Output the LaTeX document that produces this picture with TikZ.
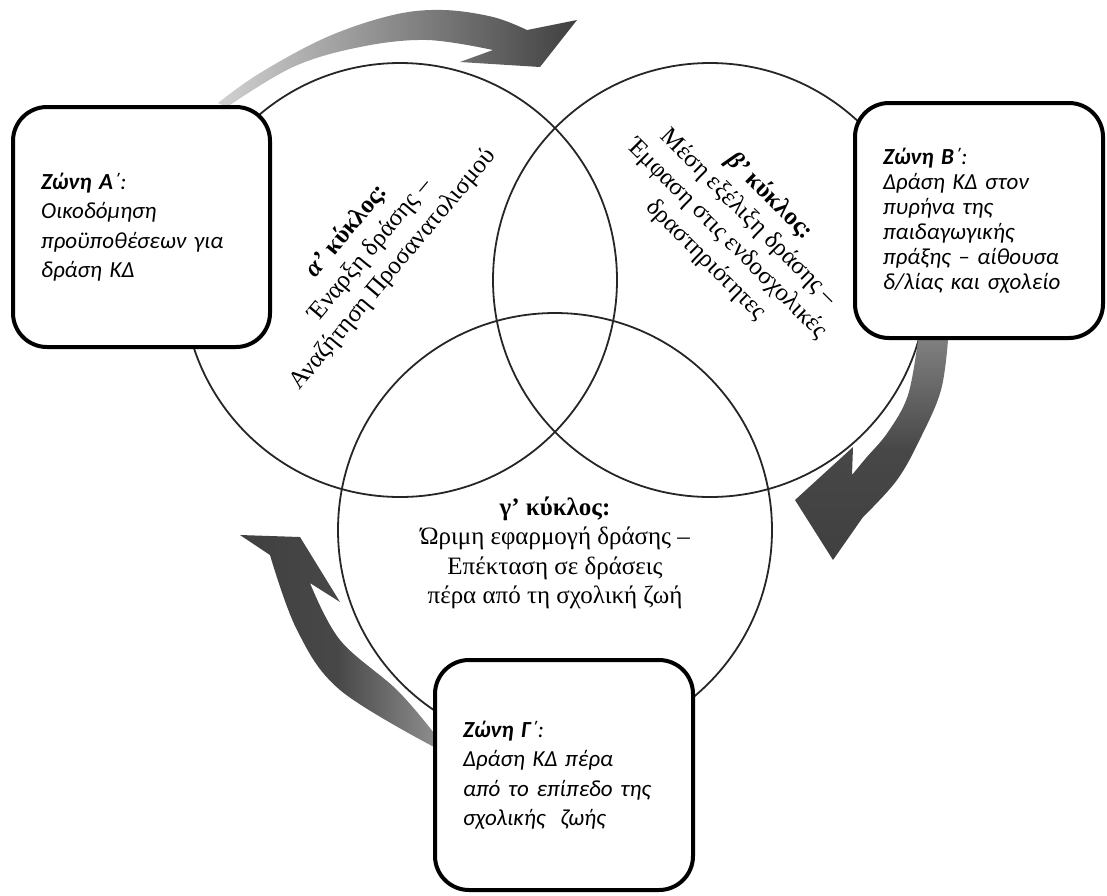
\documentclass[tikz,border=0pt]{standalone}
\usepackage{fontspec}
\setmainfont{Liberation Serif}
\newfontfamily\zonefont{Carlito}
\usetikzlibrary{positioning}
\tikzset{
    kyklos/.style={
        circle,
        draw=black!85,
        line width=1.8pt,
        minimum size=434pt,
        inner sep=0pt
    },
    zone/.style={
        rectangle,
        draw=black,
        line width=4pt,
        rounded corners=34pt,
        fill=white,
        align=left,
        inner xsep=28pt,
        font=\zonefont\itshape\fontsize{23}{29.5}\selectfont
    },
    kyklostext/.style={
        align=center,
        font=\fontsize{25}{30}\selectfont
    }
}

\begin{document}
\begin{tikzpicture}[x=1pt, y=-1pt]

\useasboundingbox (0,0) rectangle (1107,895);

% The three circles
\node[kyklos] (alpha) at (400,280) {};
\node[kyklos] (beta) at (710,280) {};
\node[kyklos] (gamma) at (555,530) {};

% Curved arrows between the zones
\shade[left color=black!18, right color=black!75] plot[smooth, tension=0.6] coordinates {(218,103) (260,73) (327,37) (393,15) (443,10) (493,17) (527,30)} -- (577,20) -- (540,67) -- (460,62) -- (493,50) -- plot[smooth, tension=0.6] coordinates {(493,50) (427,40) (360,47) (293,67) (227,107)} -- cycle;
\shade[top color=black!50, bottom color=black!75, middle color=black!72] plot[smooth, tension=0.6] coordinates {(948,340) (941,390) (921,437) (897,480) (863,517)} -- (833,560) -- (795,500) -- (853,447) -- (852,475) -- plot[smooth, tension=0.6] coordinates {(852,475) (866,458) (888,432) (908,395) (918,340)} -- cycle;
\shade[right color=black!45, left color=black!75, middle color=black!72] plot[smooth, tension=0.6] coordinates {(434,747) (340,690) (297,630) (270,555)} -- (240,535) -- (300,537) -- (340,602) -- (310,583) -- plot[smooth, tension=0.6] coordinates {(310,583) (340,640) (397,690) (434,733)} -- cycle;

% Circle texts
\node[kyklostext, rotate=50] (alphaText) at (370,250) {\textbf{\textit{α’} κύκλος:}\\Έναρξη δράσης –\\Αναζήτηση Προσανατολισμού};
\node[kyklostext, rotate=-45] (betaText) at (738,228) {\textbf{\textit{β’} κύκλος:}\\Μέση εξέλιξη δράσης –\\Έμφαση στις ενδοσχολικές\\δραστηριότητες};
\node[kyklostext, font=\fontsize{25}{29.5}\selectfont] (gammaText) at (555,553) {\textbf{γ’ κύκλος:}\\Ώριμη εφαρμογή δράσης –\\Επέκταση σε δράσεις\\πέρα από τη σχολική ζωή};

% Zones
\node[zone, text width=201pt, minimum height=240pt] (zoneA) at (141.5,227) {\textbf{Ζώνη Α}΄:\\Οικοδόμηση\\προϋποθέσεων για\\δράση ΚΔ};
\node[zone, text width=192pt, minimum height=235pt, font=\zonefont\itshape\fontsize{23}{25}\selectfont] (zoneB) at (979,220.5) {\textbf{Ζώνη Β}΄:\\Δράση ΚΔ στον\\πυρήνα της\\παιδαγωγικής\\πράξης – αίθουσα\\δ/λίας και σχολείο};
\node[zone, text width=202pt, minimum height=230pt] (zoneC) at (564,775) {\textbf{Ζώνη Γ}΄:\\Δράση ΚΔ πέρα\\από το επίπεδο της\\σχολικής\ \ ζωής};

\end{tikzpicture}
\end{document}
